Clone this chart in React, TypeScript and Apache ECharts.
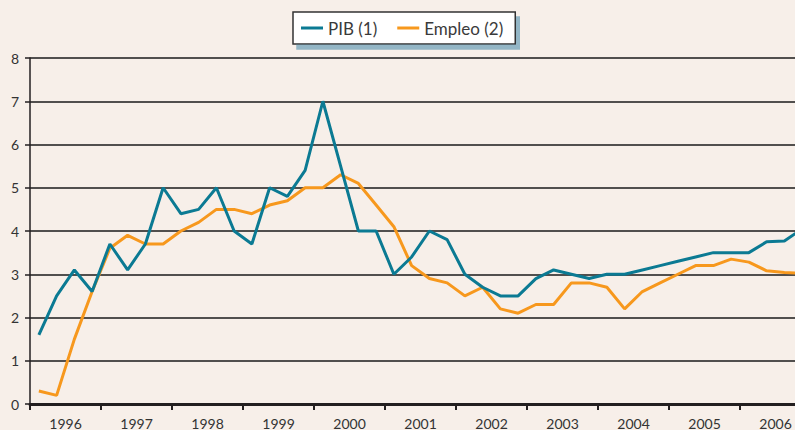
import React, { useEffect, useRef } from "react";
import * as echarts from "echarts";

const years = ["1996", "1997", "1998", "1999", "2000", "2001", "2002", "2003", "2004", "2005", "2006"];
const quarterNames = ["T1", "T2", "T3", "T4"];

const pib = [
  1.6, 2.5, 3.1, 2.6, 3.7, 3.1, 3.7, 5.0, 4.4, 4.5,
  5.0, 4.0, 3.7, 5.0, 4.8, 5.4, 7.0, 5.5, 4.0, 4.0,
  3.0, 3.4, 4.0, 3.8, 3.0, 2.7, 2.5, 2.5, 2.9, 3.1,
  3.0, 2.9, 3.0, 3.0, 3.1, 3.2, 3.3, 3.4, 3.5, 3.5,
  3.5, 3.75, 3.77, 4.05,
];

const empleo = [
  0.3, 0.2, 1.5, 2.6, 3.6, 3.9, 3.7, 3.7, 4.0, 4.2,
  4.5, 4.5, 4.4, 4.6, 4.7, 5.0, 5.0, 5.3, 5.1, 4.6,
  4.1, 3.2, 2.9, 2.8, 2.5, 2.7, 2.2, 2.1, 2.3, 2.3,
  2.8, 2.8, 2.7, 2.2, 2.6, 2.8, 3.0, 3.2, 3.2, 3.35,
  3.28, 3.08, 3.04, 3.02,
];

const yTicks = { min: 0, max: 8, interval: 1 };

const quarters: string[] = [];
years.forEach((y) => quarterNames.forEach((q) => quarters.push(`${y} ${q}`)));

export default function App() {
  const ref = useRef<HTMLDivElement>(null);
  useEffect(() => {
    document.body.style.margin = "0";
    const chart = echarts.init(ref.current!, undefined, { renderer: "svg" });
    const font = "Lato, 'Open Sans', sans-serif";
    chart.setOption({
      animation: false,
      backgroundColor: "#f7efe9",
      textStyle: { fontFamily: font },
      legend: {
        left: 293,
        top: 12,
        data: ["PIB (1)", "Empleo (2)"],
        icon: "rect",
        backgroundColor: "#ffffff",
        borderColor: "#333333",
        borderWidth: 1.5,
        shadowColor: "#93b6c6",
        shadowOffsetX: 4,
        shadowOffsetY: 5,
        shadowBlur: 0,
        padding: [7, 12, 7, 8],
        itemGap: 20,
        itemWidth: 22,
        itemHeight: 3,
        textStyle: { fontSize: 17, color: "#3a3a3a", lineHeight: 18, fontFamily: font },
      },
      grid: { left: 30, top: 58, bottom: 17, right: 19 },
      xAxis: [
        {
          type: "category",
          data: quarters,
          boundaryGap: true,
          show: false,
        },
        {
          type: "category",
          data: years,
          position: "bottom",
          boundaryGap: true,
          axisLine: { show: true, lineStyle: { color: "#231f20", width: 3 } },
          axisTick: { show: true, interval: 0, length: 6, lineStyle: { color: "#231f20", width: 2 } },
          axisLabel: { interval: 0, fontSize: 14, color: "#333333", margin: 12, fontFamily: font },
          splitLine: { show: false },
        },
      ],
      yAxis: {
        type: "value",
        min: yTicks.min,
        max: yTicks.max,
        interval: yTicks.interval,
        axisLine: { show: true, lineStyle: { color: "#231f20", width: 1.5 } },
        axisTick: { show: true, length: 5, lineStyle: { color: "#231f20", width: 1.5 } },
        axisLabel: { fontSize: 14, color: "#333333", margin: 11, fontFamily: font },
        splitLine: { show: true, lineStyle: { color: "#1a1a1a", width: 1.5 } },
      },
      series: [
        {
          name: "PIB (1)",
          type: "line",
          xAxisIndex: 0,
          data: pib,
          symbol: "none",
          lineStyle: { color: "#0b7a93", width: 3 },
          itemStyle: { color: "#0b7a93" },
          z: 3,
        },
        {
          name: "Empleo (2)",
          type: "line",
          xAxisIndex: 0,
          data: empleo,
          symbol: "none",
          lineStyle: { color: "#f7981d", width: 3 },
          itemStyle: { color: "#f7981d" },
          z: 2,
        },
      ],
    });
    return () => chart.dispose();
  }, []);
  return (
    <div style={{ width: 795, height: 430, overflow: "hidden", position: "relative" }}>
      <div ref={ref} style={{ width: 830, height: 430 }} />
    </div>
  );
}
